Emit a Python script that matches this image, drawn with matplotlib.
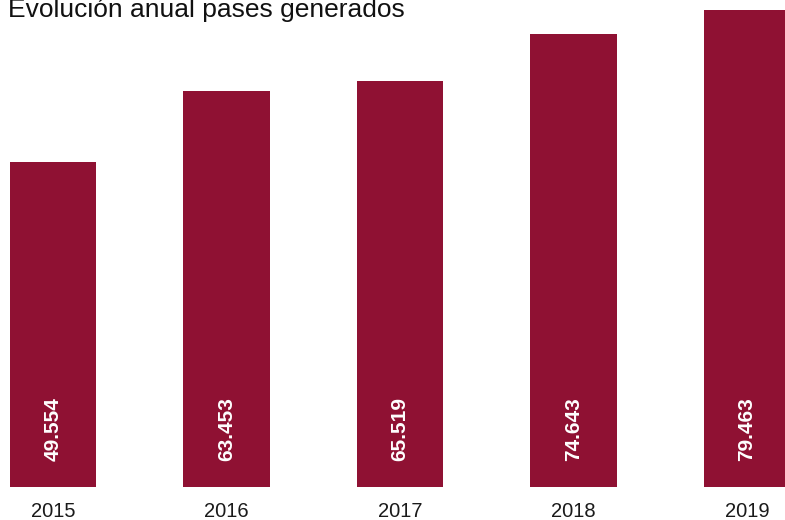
import matplotlib
matplotlib.use('Agg')
import matplotlib.pyplot as plt

######################
# Data
years = ['2015', '2016', '2017', '2018', '2019']
pases = [49554, 63453, 65519, 74643, 79463]
labels = ['49.554', '63.453', '65.519', '74.643', '79.463']
title = 'Evolución anual pases generados'

bar_color = '#8F1133'
# axis limits (the scale does not start at zero)
y_min, y_max = -14350, 81350

plt.rcParams['font.family'] = ['Liberation Sans', 'DejaVu Sans']

######################
# Figure
fig = plt.figure(figsize=(7.85, 5.2), dpi=100)
ax = fig.add_axes([0, 1 - 487 / 520, 1, 487 / 520])

x = list(range(len(years)))
ax.bar(x, [v - y_min for v in pases], bottom=y_min, width=0.496,
       color=bar_color, zorder=2)
ax.set_xlim(-0.3055, 4.219)
ax.set_ylim(y_min, y_max)

# value labels inside the bars, rotated
for xi, lab in zip(x, labels):
    ax.annotate(lab, xy=(xi, y_min), xytext=(0, 42), textcoords='offset points',
                ha='center', va='center', rotation=90, color='white',
                fontsize=15, fontweight='bold')

ax.set_xticks(x)
ax.set_xticklabels(years, fontsize=14.5, color='#1a1a1a')
ax.tick_params(axis='x', length=0, pad=11)
ax.set_yticks([])
for s in ax.spines.values():
    s.set_visible(False)

fig.text(8 / 785, 1 - 17 / 520, title, ha='left', va='baseline',
         fontsize=19, color='#111111')

fig.savefig('out.png', dpi=100)
plt.close('all')
